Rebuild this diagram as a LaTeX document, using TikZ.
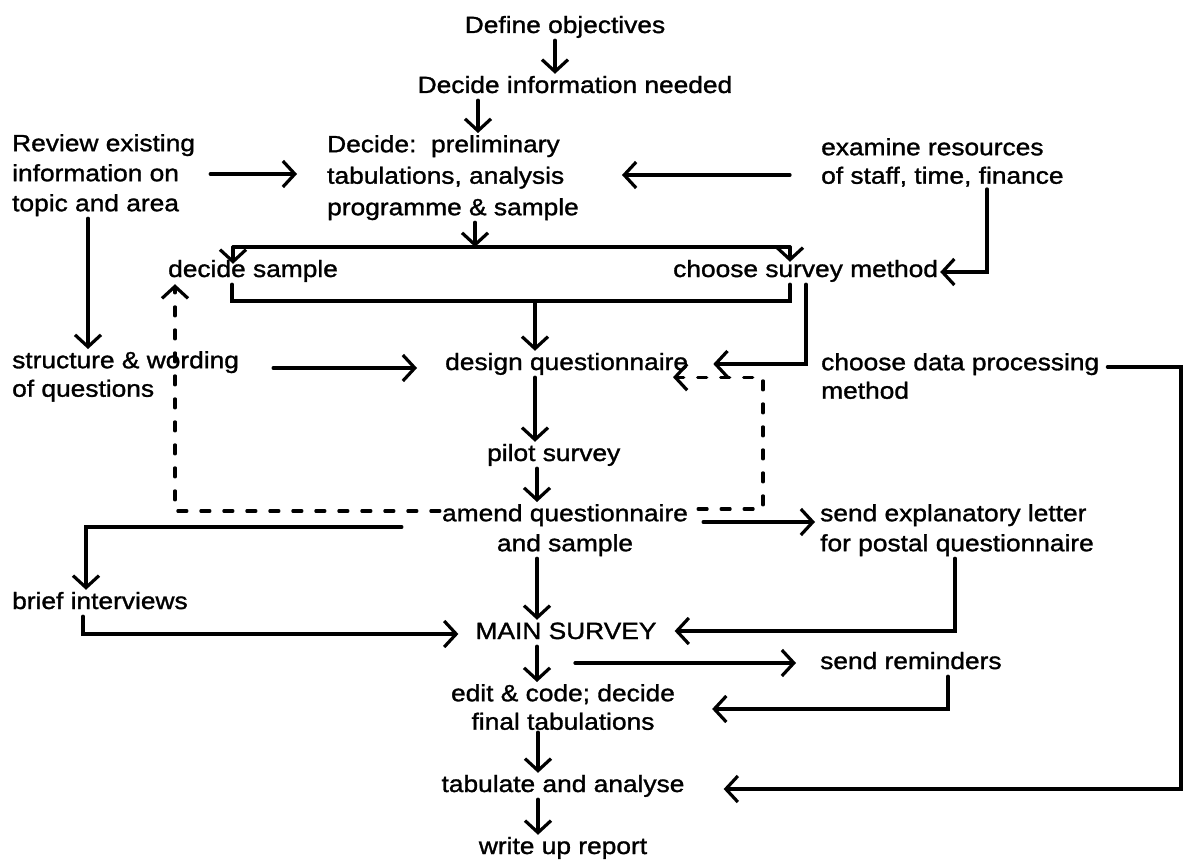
\documentclass[tikz,border=0pt]{standalone}
\usepackage{fontspec}
\setmainfont{Liberation Sans}[FakeStretch=1.12,FakeBold=1.3]
\usetikzlibrary{arrows.meta}
\tikzset{
  lbl/.style={inner sep=2pt, font=\fontsize{23.5}{30}\selectfont},
  one/.style={lbl, text height=17pt, text depth=5pt},
  multi/.style={lbl, align=left, anchor=north west},
  multitight/.style={multi, font=\fontsize{23.5}{28.5}\selectfont},
  conn/.style={line width=3.2pt, line cap=round, line join=miter},
  arr/.style={conn, -{Straight Barb[length=12pt,width=26pt]}},
  dashline/.style={conn, dash pattern=on 9pt off 14pt},
  dasharr/.style={dashline, -{Straight Barb[length=12pt,width=26pt]}},
}
\begin{document}
\begin{tikzpicture}[x=1pt,y=-1pt]
\useasboundingbox (0,0) rectangle (1183,861);

% single-line nodes
\node[one, anchor=base] (defobj) at (565,33) {Define objectives};
\node[one, anchor=base] (decinfo) at (575,93) {Decide information needed};
\node[one, anchor=base west] (decsample) at (166,277) {decide sample};
\node[one, anchor=base west] (survey) at (671,277) {choose survey method};
\node[one, anchor=base west] (design) at (443,370) {design questionnaire};
\node[one, anchor=base west] (pilot) at (485,461) {pilot survey};
\node[one, anchor=base west] (brief) at (10,609) {brief interviews};
\node[one, anchor=base] (main) at (566,639) {MAIN SURVEY};
\node[one, anchor=base west] (remind) at (818,669) {send reminders};
\node[one, anchor=base] (tabulate) at (563,792) {tabulate and analyse};
\node[one, anchor=base] (write) at (563,854) {write up report};

% multi-line nodes
\node[multi] (review) at (10,132) {Review existing\\information on\\topic and area};
\node[multi, font=\fontsize{23.5}{31.5}\selectfont] (decide) at (325,133) {Decide:\ \ preliminary\\tabulations, analysis\\programme \& sample};
\node[multitight] (examine) at (819,136) {examine resources\\of staff, time, finance};
\node[multitight] (structure) at (10,349) {structure \& wording\\of questions};
\node[multitight] (dataproc) at (819,351) {choose data processing\\method};
\node[multi] (letter) at (818,502) {send explanatory letter\\for postal questionnaire};
\node[lbl, align=center, anchor=north] (amend) at (565,502) {amend questionnaire\\and sample};
\node[lbl, align=center, anchor=north, font=\fontsize{23.5}{28.5}\selectfont] (edit) at (563,682) {edit \& code; decide\\final tabulations};

% junction coordinates
\coordinate (bar) at (475,247);
\coordinate (barL) at (233,247);
\coordinate (barR) at (790,247);
\coordinate (brL) at (232,301);
\coordinate (brR) at (790,301);
\coordinate (brM) at (535,301);
\coordinate (m1) at (575,663);
\coordinate (dpc) at (1181,789);

% connectors
\draw[arr] (defobj.south -| 555,0) -- (decinfo.north -| 555,0);
\draw[arr] (decinfo.south -| 478,0) -- (decide.north -| 478,0);
\draw[arr, shorten <=13pt, shorten >=28pt] (review.east |- 0,174) -- (decide.west |- 0,174);
\draw[arr, shorten <=29pt, shorten >=41pt] (examine.west |- 0,175) -- (decide.east |- 0,175);

\draw[arr] (decide.south -| bar) -- (bar);
\draw[conn] (barL) -- (barR);
\draw[arr, shorten >=-6pt] (barL) -- (decsample.north -| barL);
\draw[arr, shorten >=-4pt] (barR) -- (survey.north -| barR);

\draw[conn] (decsample.south -| brL) -- (brL) -- (brR) -- (survey.south -| brR);
\draw[arr] (brM) -- (design.north -| brM);

\draw[arr] (examine.south -| 987,0) |- (survey.east |- 0,272);
\draw[arr, shorten >=23pt] (survey.south -| 806,0) |- (design.east |- 0,364);

\draw[arr] (review.south -| 88,0) -- (structure.north -| 88,0);
\draw[arr, shorten <=32pt, shorten >=26pt] (structure.east |- 0,368) -- (design.west |- 0,368);

\draw[arr] (design.south -| 535,0) -- (pilot.north -| 535,0);
\draw[arr] (pilot.south -| 537,0) -- (amend.north -| 537,0);

\draw[dasharr] (amend.west |- 0,511) -| (decsample.south -| 175,0);
\draw[dasharr, shorten <=8pt] (amend.east |- 0,509) -| (design.south -| 763,0) -- (design.south -| 673,0);

\draw[arr, shorten <=38pt] (amend.west |- 0,527) -| (brief.north -| 86,0);
\draw[arr, shorten <=13pt, shorten >=3pt] (amend.east |- 0,522) -- (letter.west |- 0,522);

\draw[arr] (amend.south -| 537,0) -- (main.north -| 537,0);
\draw[arr, shorten >=15pt] (brief.south -| 83,0) |- (main.west |- 0,634);
\draw[arr, shorten >=16pt] (letter.south -| 955,0) |- (main.east |- 0,631);

\draw[arr] (main.south -| 537,0) -- (edit.north -| 537,0);
\draw[arr, shorten >=22pt] (m1) -- (remind.west |- m1);
\draw[arr, shorten >=35pt] (remind.south -| 948,0) |- (edit.east |- 0,709);

\draw[arr] (edit.south -| 538,0) -- (tabulate.north -| 538,0);
\draw[arr, shorten <=6pt, shorten >=37pt] (dataproc.east |- 0,367) -| (dpc) -- (tabulate.east |- dpc);
\draw[arr] (tabulate.south -| 538,0) -- (write.north -| 538,0);
\end{tikzpicture}
\end{document}
